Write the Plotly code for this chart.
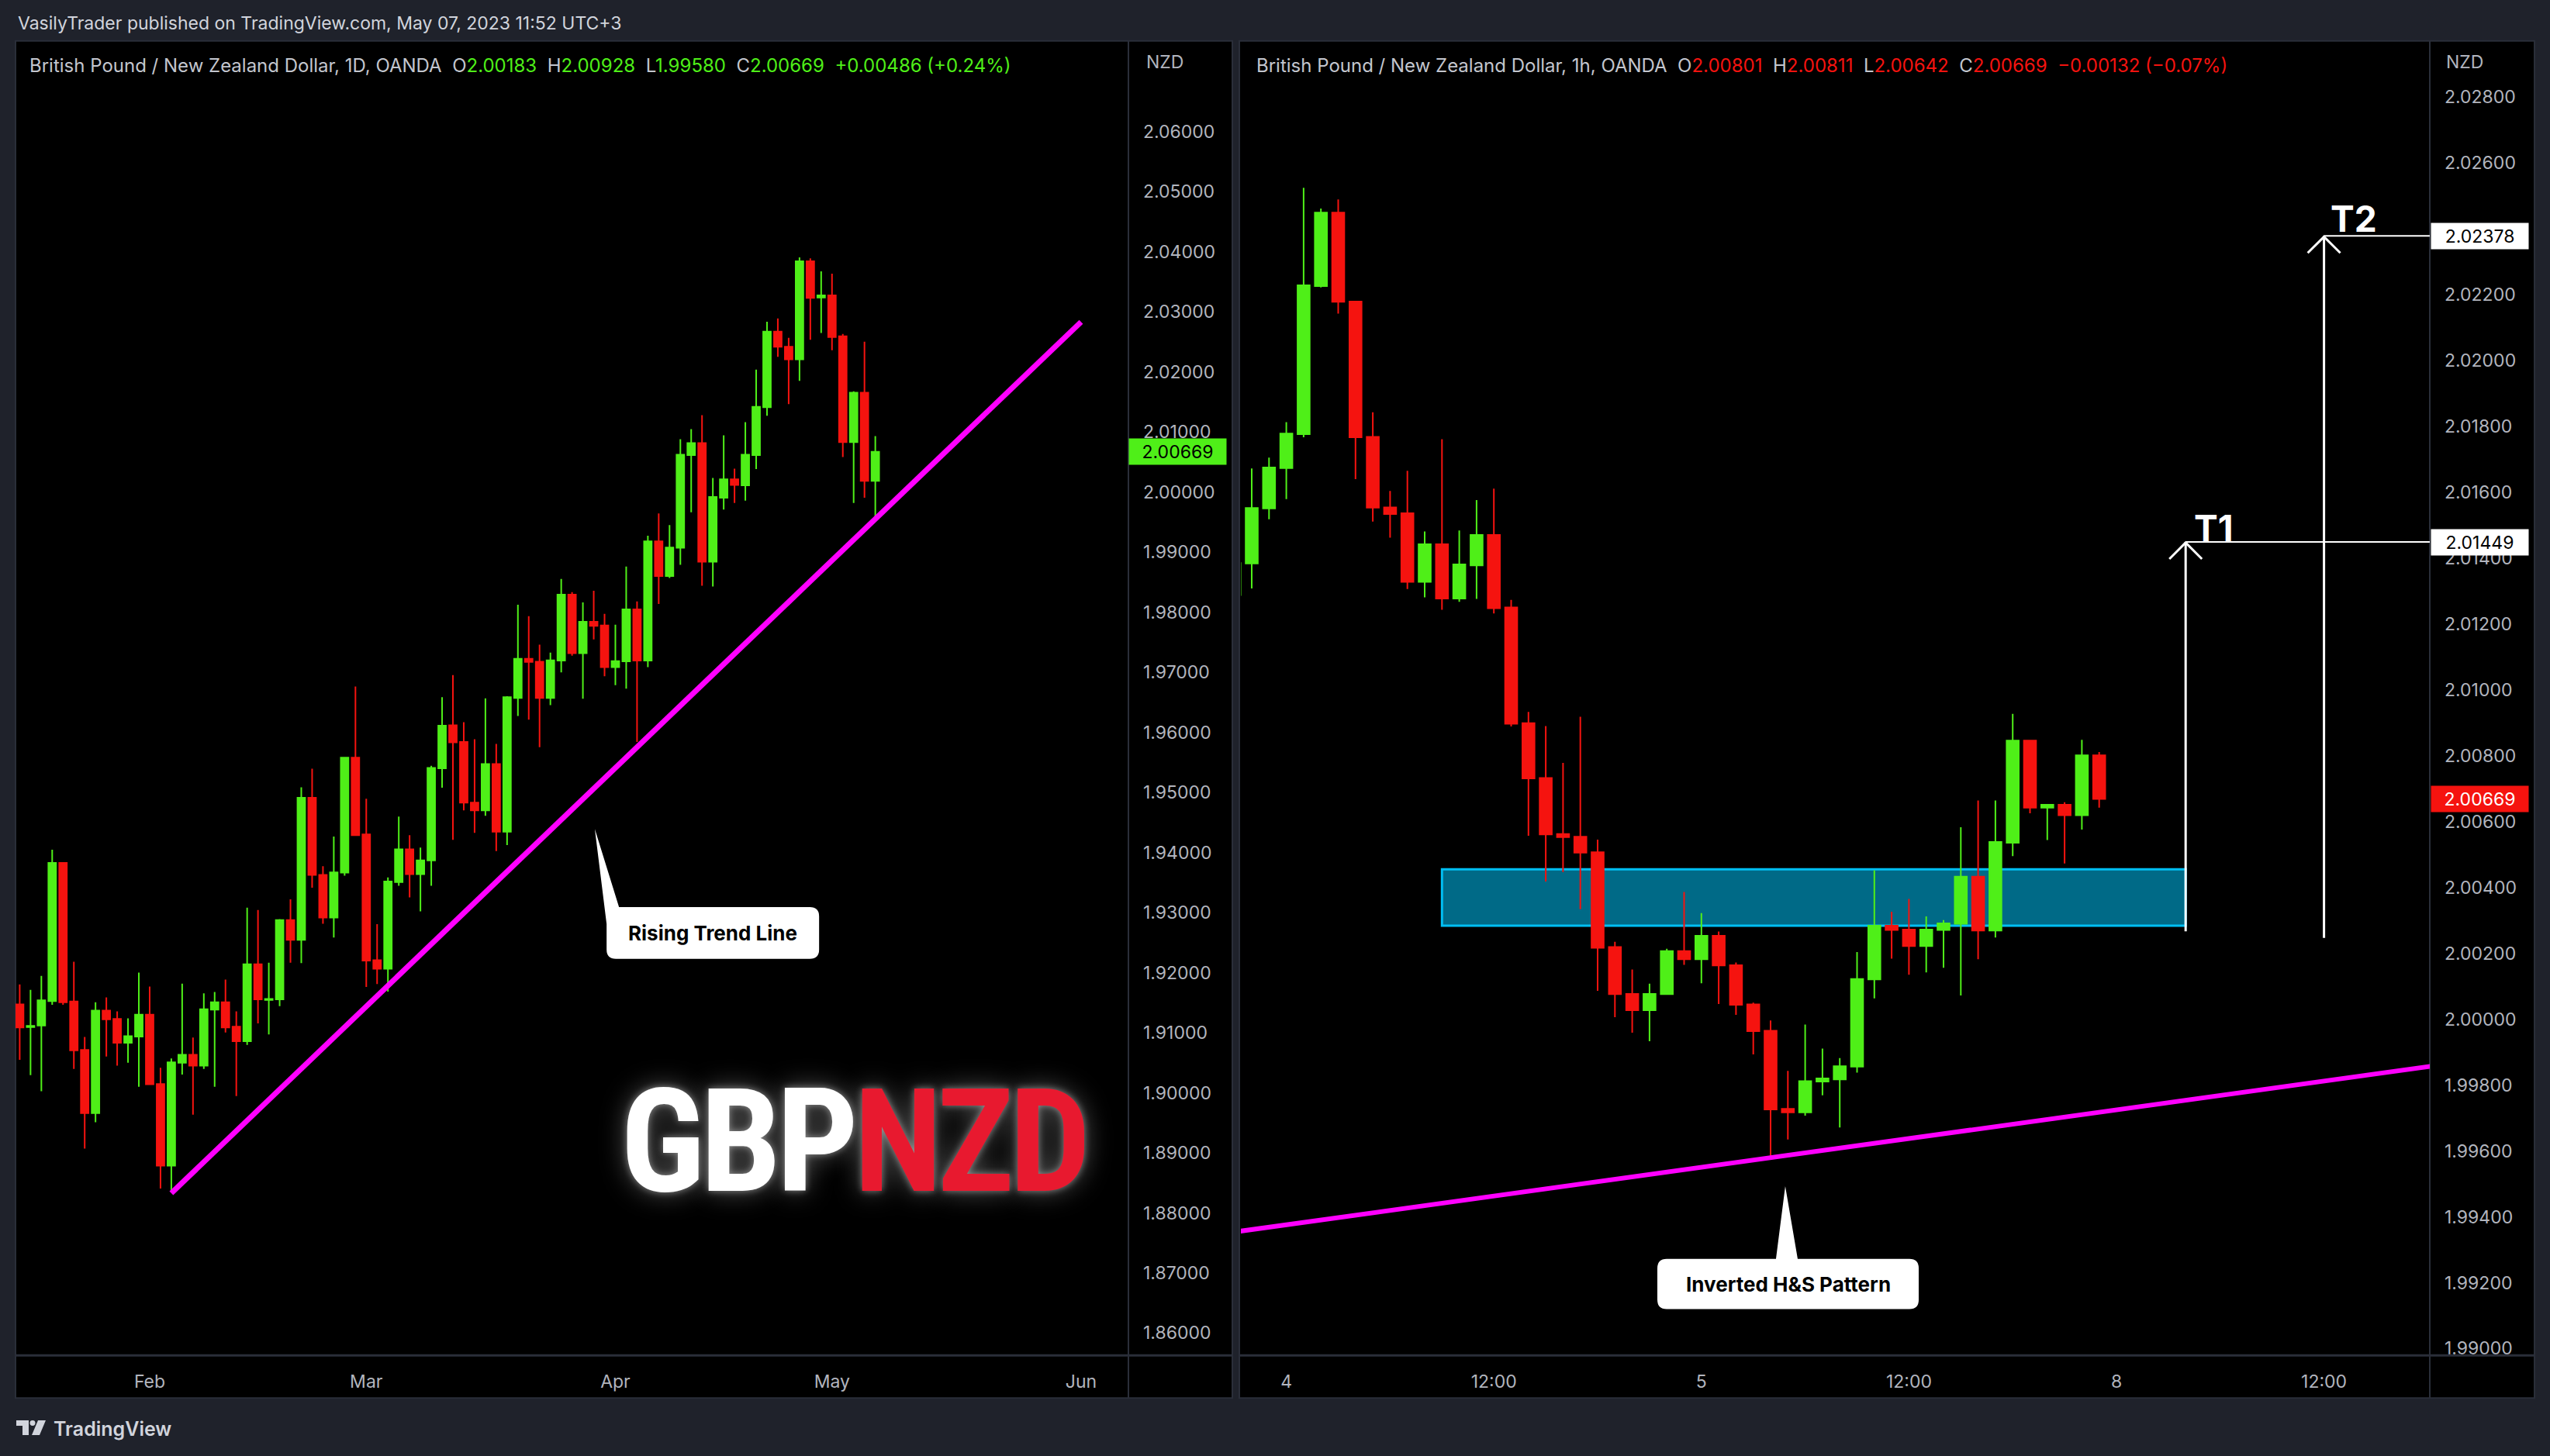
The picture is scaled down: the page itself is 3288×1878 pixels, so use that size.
import plotly.graph_objects as go
import pandas as pd

W, H = 3288, 1878

# ---------------- Daily candles: GBP/NZD, 1D, OANDA (16 Jan - 5 May 2023) ----------------
daily_open = [
    1.91470, 1.91094, 1.91118, 1.91525, 1.93827, 1.91519, 1.90711, 1.89661, 1.91367, 1.91227,
    1.90833, 1.90936, 1.91300, 1.90146, 1.88786, 1.90499, 1.90632, 1.90450, 1.91385, 1.91507,
    1.91100, 1.90857, 1.92138, 1.91545, 1.91555, 1.92873, 1.92545, 1.94908, 1.93626, 1.92916,
    1.93663, 1.95576, 1.94300, 1.92205, 1.92065, 1.93505, 1.94051, 1.93638, 1.93869, 1.95400,
    1.96116, 1.95838, 1.94829, 1.94700, 1.95472, 1.94344, 1.96571, 1.97223, 1.97174, 1.96571,
    1.97192, 1.98291, 1.97315, 1.97840, 1.97777, 1.97085, 1.97180, 1.98046, 1.97192, 1.99179,
    1.98600, 1.99071, 2.00613, 2.00813, 1.98840, 1.99903, 2.00211, 2.00110, 2.00613, 2.01410,
    2.02669, 2.02416, 2.02208, 2.03839, 2.03237, 2.03272, 2.02592, 2.00831, 2.01653, 2.00183,
]
daily_high = [
    1.91804, 1.91713, 1.91944, 1.94045, 1.93840, 1.92181, 1.90930, 1.91507, 1.91586, 1.91355,
    1.91239, 1.91999, 1.91768, 1.90414, 1.90572, 1.91816, 1.90918, 1.91653, 1.91677, 1.91883,
    1.91355, 1.93080, 1.93043, 1.92163, 1.92891, 1.93219, 1.95084, 1.95393, 1.93772, 1.94264,
    1.95588, 1.96760, 1.94895, 1.92806, 1.93584, 1.94598, 1.94288, 1.94082, 1.95442, 1.96584,
    1.96952, 1.96167, 1.95884, 1.96566, 1.95807, 1.96600, 1.98124, 1.97931, 1.97457, 1.97326,
    1.98551, 1.98332, 1.98162, 1.98355, 1.97972, 1.97789, 1.98757, 1.98179, 1.99272, 1.99642,
    1.99449, 2.00878, 2.01045, 2.01277, 2.00234, 2.00943, 2.00389, 2.01162, 2.02036, 2.02834,
    2.02888, 2.02564, 2.03905, 2.03889, 2.03671, 2.03632, 2.02628, 2.01676, 2.02499, 2.00928,
]
daily_low = [
    1.90547, 1.90292, 1.90025, 1.91464, 1.91464, 1.90395, 1.89071, 1.89509, 1.90602, 1.90450,
    1.90499, 1.90098, 1.90130, 1.88406, 1.88340, 1.90304, 1.89636, 1.90395, 1.90098, 1.91003,
    1.89946, 1.90796, 1.91154, 1.90972, 1.91440, 1.92163, 1.92157, 1.93414, 1.92812, 1.92582,
    1.93614, 1.94276, 1.91762, 1.91810, 1.91683, 1.93444, 1.93250, 1.93019, 1.93444, 1.95078,
    1.94211, 1.94700, 1.94327, 1.94610, 1.94022, 1.94121, 1.96270, 1.96211, 1.95750, 1.96450,
    1.96996, 1.97274, 1.96559, 1.97544, 1.96932, 1.96785, 1.96725, 1.95838, 1.97085, 1.98136,
    1.98569, 1.98786, 1.99662, 1.98439, 1.98426, 1.99707, 1.99815, 1.99856, 2.00382, 2.01269,
    2.02250, 2.01463, 2.01848, 2.02533, 2.02646, 2.02358, 2.00582, 1.99815, 1.99903, 1.99580,
]
daily_close = [
    1.91087, 1.91112, 1.91537, 1.93827, 1.91507, 1.90705, 1.89661, 1.91367, 1.91221, 1.90833,
    1.90942, 1.91300, 1.90140, 1.88786, 1.90505, 1.90632, 1.90450, 1.91391, 1.91507, 1.91087,
    1.90857, 1.92138, 1.91555, 1.91560, 1.92873, 1.92545, 1.94908, 1.93626, 1.92916, 1.93669,
    1.95576, 1.94288, 1.92199, 1.92065, 1.93517, 1.94051, 1.93638, 1.93869, 1.95406, 1.96110,
    1.95833, 1.94829, 1.94700, 1.95472, 1.94344, 1.96585, 1.97223, 1.97171, 1.96571, 1.97197,
    1.98291, 1.97315, 1.97840, 1.97771, 1.97085, 1.97184, 1.98046, 1.97192, 1.99179, 1.98600,
    1.99076, 2.00620, 2.00813, 1.98840, 1.99915, 2.00211, 2.00118, 2.00620, 2.01418, 2.02669,
    2.02416, 2.02208, 2.03839, 2.03230, 2.03272, 2.02577, 2.00831, 2.01653, 2.00183, 2.00669,
]
daily_start = "2023-01-16"

# ---------------- Hourly candles: GBP/NZD, 1h, OANDA (3 May 21:00 - 5 May 23:00, UTC+3) ----------------
hourly_open = [
    2.01288, 2.01384, 2.01551, 2.01673, 2.01776, 2.02226, 2.02449, 2.02179, 2.01768, 2.01554,
    2.01536, 2.01328, 2.01442, 2.01277, 2.01378, 2.01470, 2.01250, 2.00899, 2.00732, 2.00562,
    2.00554, 2.00507, 2.00219, 2.00077, 2.00027, 2.00076, 2.00207, 2.00182, 2.00253, 2.00164,
    2.00045, 1.99965, 1.99728, 1.99717, 1.99811, 1.99817, 1.99856, 2.00121, 2.00284, 2.00272,
    2.00222, 2.00271, 2.00290, 2.00433, 2.00269, 2.00536, 2.00846, 2.00642, 2.00651, 2.00619,
    2.00801,
]
hourly_high = [
    2.01400, 2.01672, 2.01705, 2.01813, 2.02524, 2.02461, 2.02489, 2.02180, 2.01843, 2.01604,
    2.01665, 2.01481, 2.01761, 2.01484, 2.01576, 2.01611, 2.01273, 2.00933, 2.00890, 2.00778,
    2.00918, 2.00545, 2.00235, 2.00151, 2.00108, 2.00214, 2.00386, 2.00322, 2.00266, 2.00172,
    2.00050, 1.99996, 1.99843, 1.99984, 1.99911, 1.99882, 2.00204, 2.00452, 2.00326, 2.00365,
    2.00312, 2.00301, 2.00583, 2.00664, 2.00664, 2.00927, 2.00847, 2.00653, 2.00659, 2.00848,
    2.00811,
]
hourly_low = [
    2.01270, 2.01308, 2.01518, 2.01579, 2.01767, 2.02222, 2.02142, 2.01640, 2.01511, 2.01462,
    2.01306, 2.01281, 2.01243, 2.01267, 2.01276, 2.01232, 2.00889, 2.00557, 2.00418, 2.00447,
    2.00334, 2.00086, 2.00006, 1.99959, 1.99933, 2.00074, 2.00165, 2.00109, 2.00046, 2.00013,
    1.99893, 1.99580, 1.99635, 1.99707, 1.99769, 1.99671, 1.99838, 2.00063, 2.00184, 2.00135,
    2.00142, 2.00156, 2.00072, 2.00182, 2.00248, 2.00495, 2.00625, 2.00544, 2.00473, 2.00576,
    2.00642,
]
hourly_close = [
    2.01385, 2.01552, 2.01675, 2.01778, 2.02228, 2.02449, 2.02178, 2.01767, 2.01553, 2.01534,
    2.01328, 2.01442, 2.01277, 2.01381, 2.01470, 2.01248, 2.00897, 2.00731, 2.00561, 2.00553,
    2.00506, 2.00217, 2.00076, 2.00027, 2.00077, 2.00207, 2.00182, 2.00253, 2.00163, 2.00044,
    1.99964, 1.99726, 1.99717, 1.99812, 1.99820, 1.99857, 2.00122, 2.00284, 2.00271, 2.00222,
    2.00272, 2.00291, 2.00433, 2.00269, 2.00538, 2.00846, 2.00642, 2.00651, 2.00619, 2.00801,
    2.00669,
]
hourly_start = "2023-05-03 21:00"

# ---------------- axis ticks ----------------
daily_tick_dates = ["2023-02-01", "2023-03-01", "2023-04-03", "2023-05-01", "2023-06-01"]
daily_tick_text = ["Feb", "Mar", "Apr", "May", "Jun"]
hourly_tick_times = ["2023-05-04 00:00", "2023-05-04 12:00", "2023-05-05 00:00",
                     "2023-05-05 12:00", "2023-05-08 00:00", "2023-05-08 12:00"]
hourly_tick_text = ["4", "12:00", "5", "12:00", "8", "12:00"]
daily_price_ticks = [1.86, 1.87, 1.88, 1.89, 1.90, 1.91, 1.92, 1.93, 1.94, 1.95, 1.96,
                     1.97, 1.98, 1.99, 2.00, 2.01, 2.02, 2.03, 2.04, 2.05, 2.06]
# (2.02400 is hidden behind the T2 price label in the reference)
hourly_price_ticks = [1.990, 1.992, 1.994, 1.996, 1.998, 2.000, 2.002, 2.004, 2.006, 2.008,
                      2.010, 2.012, 2.014, 2.016, 2.018, 2.020, 2.022, 2.026, 2.028]

# ---------------- drawings ----------------
trend_daily = [("2023-02-03", 1.88329), ("2023-06-01", 2.02830)]
trend_hourly = [("2023-05-03 21:00", 1.99354), ("2023-05-08 19:00", 1.99863)]
zone_hourly = ("2023-05-04 09:00", "2023-05-08 04:00", 2.00284, 2.00455)
targets = [("T1", "2023-05-08 04:00", 2.00267, 2.01449), ("T2", "2023-05-08 12:00", 2.00247, 2.02378)]

# ---------------- calendars (trading days / trading hours) ----------------
day_cal = list(pd.bdate_range(daily_start, "2023-06-30"))
hour_cal = [t for t in pd.date_range(hourly_start, "2023-05-09 23:00", freq="h") if t.weekday() < 5]


def dpos(d):
    return day_cal.index(pd.Timestamp(d))


def hpos(t):
    return hour_cal.index(pd.Timestamp(t))


daily_x = list(range(len(daily_open)))
hourly_x = list(range(len(hourly_open)))

# ---------------- styling ----------------
FONT = "Inter, Roboto, 'Noto Sans', sans-serif"
AX_COLOR = "#B2B5BE"
TXT = "#D1D4DC"
GREEN = "#4FEF18"
RED = "#F5130F"
FRAME = "#1F222B"
BORDER = "#2A2E39"
MAGENTA = "#FF00FF"

L_PX = (20, 1455)
R_PX = (1600, 3133)
TOP, BOT = 53, 1753
L_XR = (-0.387, 102.37)
L_YR = (1.85627, 2.07506)
R_XR = (0.372, 69.117)
R_YR = (1.98979, 2.02970)
LEFT = (L_PX, L_XR, L_YR)
RIGHT = (R_PX, R_XR, R_YR)


def px2data(px, py, pane):
    (x0, x1), xr, yr = pane
    return (xr[0] + (px - x0) / (x1 - x0) * (xr[1] - xr[0]),
            yr[1] - (py - TOP) / (BOT - TOP) * (yr[1] - yr[0]))


def data2px(x, y, pane):
    (x0, x1), xr, yr = pane
    return (x0 + (x - xr[0]) / (xr[1] - xr[0]) * (x1 - x0),
            TOP + (yr[1] - y) / (yr[1] - yr[0]) * (BOT - TOP))


def path_from_px(pts, pane, close=True):
    s = ""
    for p in pts:
        cmd, coords = p[0], p[1:]
        conv = []
        for i in range(0, len(coords), 2):
            dx, dy = px2data(coords[i], coords[i + 1], pane)
            conv.append(f"{dx:.5f},{dy:.6f}")
        s += cmd + " ".join(conv) + " "
    return s + ("Z" if close else "")


def callout(tip, center, bw, bh, pane, corner_tail, r=12):
    tx, ty = data2px(tip[0], tip[1], pane)
    cx, cy = data2px(center[0], center[1], pane)
    x0, x1, y0, y1 = cx - bw / 2, cx + bw / 2, cy - bh / 2, cy + bh / 2
    if corner_tail:
        pts = [("M", x0 + 16, y0), ("L", x1 - r, y0), ("Q", x1, y0, x1, y0 + r), ("L", x1, y1 - r),
               ("Q", x1, y1, x1 - r, y1), ("L", x0 + r, y1), ("Q", x0, y1, x0, y1 - r),
               ("L", x0, y0 + 22), ("L", tx, ty)]
    else:
        pts = [("M", x0 + r, y0), ("L", tx - 12, y0), ("L", tx, ty), ("L", tx + 16, y0),
               ("L", x1 - r, y0), ("Q", x1, y0, x1, y0 + r), ("L", x1, y1 - r),
               ("Q", x1, y1, x1 - r, y1), ("L", x0 + r, y1), ("Q", x0, y1, x0, y1 - r),
               ("L", x0, y0 + r), ("Q", x0, y0, x0 + r, y0)]
    return path_from_px(pts, pane)


def P(x, y):
    return x / W, 1 - y / H


fig = go.Figure()

candle_style = dict(
    increasing=dict(line=dict(color=GREEN, width=2), fillcolor=GREEN),
    decreasing=dict(line=dict(color=RED, width=2), fillcolor=RED),
    showlegend=False, hoverinfo="skip", whiskerwidth=0,
)
fig.add_trace(go.Candlestick(x=daily_x, open=daily_open, high=daily_high, low=daily_low,
                             close=daily_close, xaxis="x", yaxis="y", **candle_style))
fig.add_trace(go.Candlestick(x=hourly_x, open=hourly_open, high=hourly_high, low=hourly_low,
                             close=hourly_close, xaxis="x2", yaxis="y2", **candle_style))

axis_font = dict(family=FONT, size=23, color=AX_COLOR)
common_x = dict(showgrid=False, zeroline=False, showline=False, ticks="", tickfont=axis_font,
                rangeslider=dict(visible=False), ticklabelstandoff=18, fixedrange=True)
common_y = dict(showgrid=False, zeroline=False, showline=False, ticks="", tickfont=axis_font,
                side="right", tickformat=".5f", ticklabelstandoff=18, fixedrange=True)

ydom = [1 - BOT / H, 1 - TOP / H]
fig.update_layout(
    width=W, height=H, margin=dict(l=0, r=0, t=0, b=0),
    paper_bgcolor=FRAME, plot_bgcolor="rgba(0,0,0,0)",
    boxgap=0.3, boxgroupgap=0.0,
    xaxis=dict(domain=[L_PX[0] / W, L_PX[1] / W], range=list(L_XR), anchor="y",
               tickvals=[dpos(d) for d in daily_tick_dates], ticktext=daily_tick_text, **common_x),
    yaxis=dict(domain=ydom, range=list(L_YR), anchor="x", tickvals=daily_price_ticks, **common_y),
    xaxis2=dict(domain=[R_PX[0] / W, R_PX[1] / W], range=list(R_XR), anchor="y2",
                tickvals=[hpos(t) for t in hourly_tick_times], ticktext=hourly_tick_text, **common_x),
    yaxis2=dict(domain=ydom, range=list(R_YR), anchor="x2", tickvals=hourly_price_ticks, **common_y),
)

shapes = []
# pane backgrounds and borders
for (a, b) in [(20, 1589), (1598, 3268)]:
    shapes.append(dict(type="rect", xref="paper", yref="paper", layer="below",
                       x0=a / W, x1=b / W, y0=1 - 1808 / H, y1=1 - TOP / H,
                       fillcolor="#000000", line=dict(color=BORDER, width=2)))
# separators between chart, price scale and time scale
for (a, b, sep) in [(20, 1589, 1455), (1598, 3268, 3133)]:
    shapes.append(dict(type="line", xref="paper", yref="paper", layer="above",
                       x0=sep / W, x1=sep / W, y0=1 - 1808 / H, y1=1 - TOP / H,
                       line=dict(color=BORDER, width=2)))
    shapes.append(dict(type="line", xref="paper", yref="paper", layer="above",
                       x0=a / W, x1=b / W, y0=1 - BOT / H, y1=1 - BOT / H,
                       line=dict(color=BORDER, width=3)))

# left: rising trend line
shapes.append(dict(type="line", xref="x", yref="y",
                   x0=dpos(trend_daily[0][0]), y0=trend_daily[0][1],
                   x1=dpos(trend_daily[1][0]), y1=trend_daily[1][1],
                   line=dict(color=MAGENTA, width=7)))
# left callout
rising_tip = (53.1, 1.94391)
rising_center = (64.0, 1.92660)
shapes.append(dict(type="path", xref="x", yref="y",
                   path=callout(rising_tip, rising_center, 274, 67, LEFT, corner_tail=True),
                   fillcolor="white", line=dict(width=0)))

# right: demand zone (drawn beneath the candles)
z0, z1, zlo, zhi = zone_hourly
shapes.append(dict(type="rect", xref="x2", yref="y2", x0=hpos(z0), x1=hpos(z1), y0=zlo, y1=zhi,
                   layer="below", fillcolor="#006A87", line=dict(color="#00BFF3", width=3)))
# right: neckline / trend line
shapes.append(dict(type="line", xref="x2", yref="y2",
                   x0=hpos(trend_hourly[0][0]), y0=trend_hourly[0][1],
                   x1=hpos(trend_hourly[1][0]), y1=trend_hourly[1][1],
                   line=dict(color=MAGENTA, width=6)))
# targets
for name, t, lo, hi in targets:
    xp = hpos(t)
    shapes.append(dict(type="line", xref="x2", yref="y2", x0=xp, x1=xp, y0=lo, y1=hi,
                       line=dict(color="white", width=3)))
    shapes.append(dict(type="line", xref="x2", yref="y2", x0=xp, x1=R_XR[1], y0=hi, y1=hi,
                       line=dict(color="white", width=2)))
    tx, ty = data2px(xp, hi, RIGHT)
    shapes.append(dict(type="path", xref="x2", yref="y2",
                       path=path_from_px([("M", tx - 21, ty + 22), ("L", tx, ty + 1), ("L", tx + 21, ty + 22)],
                                         RIGHT, close=False),
                       line=dict(color="white", width=3)))
# right callout
hs_tip = (31.85, 1.99493)
hs_center = (32.01, 1.99196)
shapes.append(dict(type="path", xref="x2", yref="y2",
                   path=callout(hs_tip, hs_center, 337, 65, RIGHT, corner_tail=False),
                   fillcolor="white", line=dict(width=0)))


# TradingView footer logo (simple glyph)
def ppath(pts):
    s = ""
    for p in pts:
        s += p[0] + f"{p[1] / W:.6f},{1 - p[2] / H:.6f} "
    return s + "Z"


shapes.append(dict(type="path", xref="paper", yref="paper",
                   path=ppath([("M", 21, 1837), ("L", 37, 1837), ("L", 37, 1856), ("L", 29, 1856),
                               ("L", 29, 1844), ("L", 21, 1844)]),
                   fillcolor="#D1D4DC", line=dict(width=0)))
shapes.append(dict(type="circle", xref="paper", yref="paper",
                   x0=38.5 / W, x1=45.5 / W, y0=1 - 1844 / H, y1=1 - 1837 / H,
                   fillcolor="#D1D4DC", line=dict(width=0)))
shapes.append(dict(type="path", xref="paper", yref="paper",
                   path=ppath([("M", 49, 1837), ("L", 59, 1837), ("L", 51, 1856), ("L", 41, 1856)]),
                   fillcolor="#D1D4DC", line=dict(width=0)))

fig.update_layout(shapes=shapes)

# ---------------- texts ----------------
NB = "\u00a0"
ann = []


def txt(x, y, text, size=23, color=TXT, xanchor="left", **kw):
    px, py = P(x, y)
    d = dict(x=px, y=py, xref="paper", yref="paper", text=text, showarrow=False,
             xanchor=xanchor, yanchor="middle", font=dict(family=FONT, size=size, color=color))
    d.update(kw)
    ann.append(d)


txt(21, 30, "VasilyTrader published on TradingView.com, May 07, 2023 11:52 UTC+3", size=23, color=TXT)


def legend_text(title, o, h, l, c, prev, col):
    ch = c - prev
    pct = ch / prev * 100
    sign = "+" if ch >= 0 else "\u2212"
    sp = lambda v: f"<span style='color:{col}'>{v}</span>"
    return (f"{title}{NB}{NB}O{sp(f'{o:.5f}')}{NB}{NB}H{sp(f'{h:.5f}')}{NB}{NB}L{sp(f'{l:.5f}')}"
            f"{NB}{NB}C{sp(f'{c:.5f}')}{NB}{NB}{sp(f'{sign}{abs(ch):.5f} ({sign}{abs(pct):.2f}%)')}")


txt(36, 85, legend_text("British Pound / New Zealand Dollar, 1D, OANDA",
                        daily_open[-1], daily_high[-1], daily_low[-1], daily_close[-1],
                        daily_close[-2], GREEN), size=24, color="#C3C6CE")
txt(1618, 85, legend_text("British Pound / New Zealand Dollar, 1h, OANDA",
                          hourly_open[-1], hourly_high[-1], hourly_low[-1], hourly_close[-1],
                          hourly_close[-2], RED), size=24, color="#C3C6CE")
txt(1476, 80, "NZD", size=23, color=AX_COLOR)
txt(3152, 80, "NZD", size=23, color=AX_COLOR)


def price_box(xpx, yref, price, bg, fg):
    ann.append(dict(x=xpx / W, xref="paper", y=price, yref=yref, xanchor="left", yanchor="middle",
                    text=f"{price:.5f}", showarrow=False, bgcolor=bg, borderpad=2, width=121, height=29,
                    font=dict(family=FONT, size=23, color=fg)))


price_box(1455, "y", daily_close[-1], GREEN, "#000000")
price_box(3134, "y2", hourly_close[-1], RED, "#FFFFFF")
for name, t, lo, hi in targets:
    price_box(3134, "y2", hi, "#FFFFFF", "#000000")

# target labels
shifts = {"T1": (36, 18), "T2": (38, 22)}
for name, t, lo, hi in targets:
    ann.append(dict(x=hpos(t), y=hi, xref="x2", yref="y2", text=name, showarrow=False,
                    xanchor="center", yanchor="middle", xshift=shifts[name][0], yshift=shifts[name][1],
                    font=dict(family=FONT, size=46, color="white", weight=700)))

# callout texts
ann.append(dict(x=rising_center[0], y=rising_center[1], xref="x", yref="y", text="Rising Trend Line",
                showarrow=False, xanchor="center", yanchor="middle",
                font=dict(family=FONT, size=26, color="#000000", weight=700)))
ann.append(dict(x=hs_center[0], y=hs_center[1], xref="x2", yref="y2", text="Inverted H&amp;S Pattern",
                showarrow=False, xanchor="center", yanchor="middle",
                font=dict(family=FONT, size=26, color="#000000", weight=700)))

# GBPNZD logo text
gx, gy = P(1100, 1476)
ann.append(dict(x=gx, y=gy, xref="paper", yref="paper", showarrow=False, xanchor="center", yanchor="middle",
                text="<span style='letter-spacing:-6px'>GBP<span style='color:#E8192F'>NZD</span></span>",
                font=dict(family="'Roboto Condensed', 'Noto Sans CJK SC', Roboto, sans-serif",
                          size=186, color="#FFFFFF", weight=700,
                          shadow="0px 0px 10px rgba(255,255,255,0.45), 0px 0px 34px rgba(255,255,255,0.35)")))

# footer
txt(67, 1848, "TradingView", size=25, color="#D1D4DC",
    font=dict(family=FONT, size=25, color="#D1D4DC", weight=600))

fig.update_layout(annotations=ann)
fig.write_html("out.html", config={"displayModeBar": False, "staticPlot": True},
               post_script="document.body.style.margin='0px';document.body.style.overflow='hidden';")
